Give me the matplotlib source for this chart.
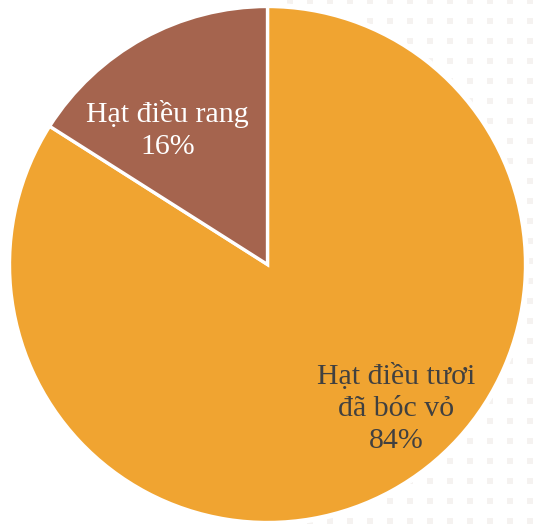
import matplotlib
matplotlib.use("Agg")
import matplotlib.pyplot as plt
import numpy as np

categories = ["Hạt điều tươi\nđã bóc vỏ", "Hạt điều rang"]
values = [84, 16]
colors = ["#F0A431", "#A5644E"]
label_colors = ["#404040", "white"]

W, H = 539, 526
fig = plt.figure(figsize=(W / 100, H / 100), dpi=100)
ax = fig.add_axes([0, 0, 1, 1])

# faint decorative dot texture on the right side of the background
gx, gy = np.meshgrid(np.arange(290, W + 10, 20), np.arange(5, H + 10, 20))
ax.scatter(gx.ravel(), gy.ravel(), marker="s", s=22, color="#F5F2F0",
           linewidths=0, zorder=0)

cx, cy, R = 267.5, H - 264.5, 258
wedges, _ = ax.pie(values, colors=colors, startangle=90, counterclock=False,
                   center=(cx, cy), radius=R, frame=True,
                   wedgeprops=dict(edgecolor="white", linewidth=2.4, zorder=2))
# white halo around the pie
ax.add_patch(plt.Circle((cx, cy), R + 3, color="white", zorder=1))
ax.set_xlim(0, W)
ax.set_ylim(0, H)
ax.set_aspect("equal")
ax.axis("off")

font = dict(family="Liberation Serif", fontsize=21.5,
            ha="center", va="center", linespacing=1.3, zorder=5)
ax.text(cx + 129, cy - 144, f"{categories[0]}\n{values[0]}%",
        color=label_colors[0], **font)
ax.text(cx - 100, cy + 134, f"{categories[1]}\n{values[1]}%",
        color=label_colors[1], **font)

fig.savefig("out.png", dpi=100)
